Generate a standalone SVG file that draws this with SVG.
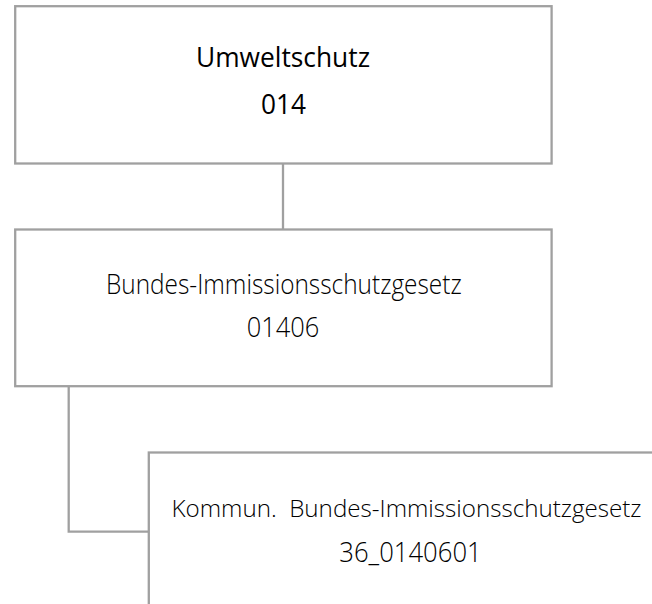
<svg xmlns="http://www.w3.org/2000/svg" width="652" height="604" viewBox="0 0 652 604">
  <style>
    .box { fill: #ffffff; stroke: #a0a0a0; stroke-width: 2.3; }
    .conn { fill: none; stroke: #a0a0a0; stroke-width: 2.3; }
    .t { font-family: "Open Sans", "Noto Sans", "Liberation Sans", sans-serif; font-size: 27px; fill: #000000; }
    .reg { font-weight: 400; }
    .light { font-weight: 300; }
  </style>
  <rect x="0" y="0" width="652" height="604" fill="#ffffff"/>
  <g id="connectors">
    <path class="conn" d="M283 163.5 V229.5"/>
    <path class="conn" d="M68.7 386.2 V531.7 H148.8"/>
  </g>
  <g id="node-umweltschutz">
    <rect class="box" x="15.2" y="6.2" width="536.4" height="157.3"/>
    <text class="t reg" x="283" y="66.7" text-anchor="middle" textLength="174" lengthAdjust="spacingAndGlyphs">Umweltschutz</text>
    <text class="t reg" x="283.5" y="114" text-anchor="middle" textLength="45" lengthAdjust="spacingAndGlyphs">014</text>
  </g>
  <g id="node-bimschg">
    <rect class="box" x="15.2" y="229.5" width="536.4" height="156.7"/>
    <text class="t light" x="283.8" y="294.3" text-anchor="middle" textLength="355.7" lengthAdjust="spacingAndGlyphs">Bundes-Immissionsschutzgesetz</text>
    <text class="t light" x="283" y="337.3" text-anchor="middle" textLength="72.6" lengthAdjust="spacingAndGlyphs">01406</text>
  </g>
  <g id="node-kommun">
    <rect class="box" x="148.8" y="452.5" width="540" height="170"/>
    <text class="t light" x="171.5" y="516.7" xml:space="preserve" style="white-space:pre;font-size:24px" textLength="470" lengthAdjust="spacingAndGlyphs">Kommun.  Bundes-Immissionsschutzgesetz</text>
    <text class="t light" x="339.3" y="561.7" textLength="142.4" lengthAdjust="spacingAndGlyphs">36_0140601</text>
  </g>
</svg>
